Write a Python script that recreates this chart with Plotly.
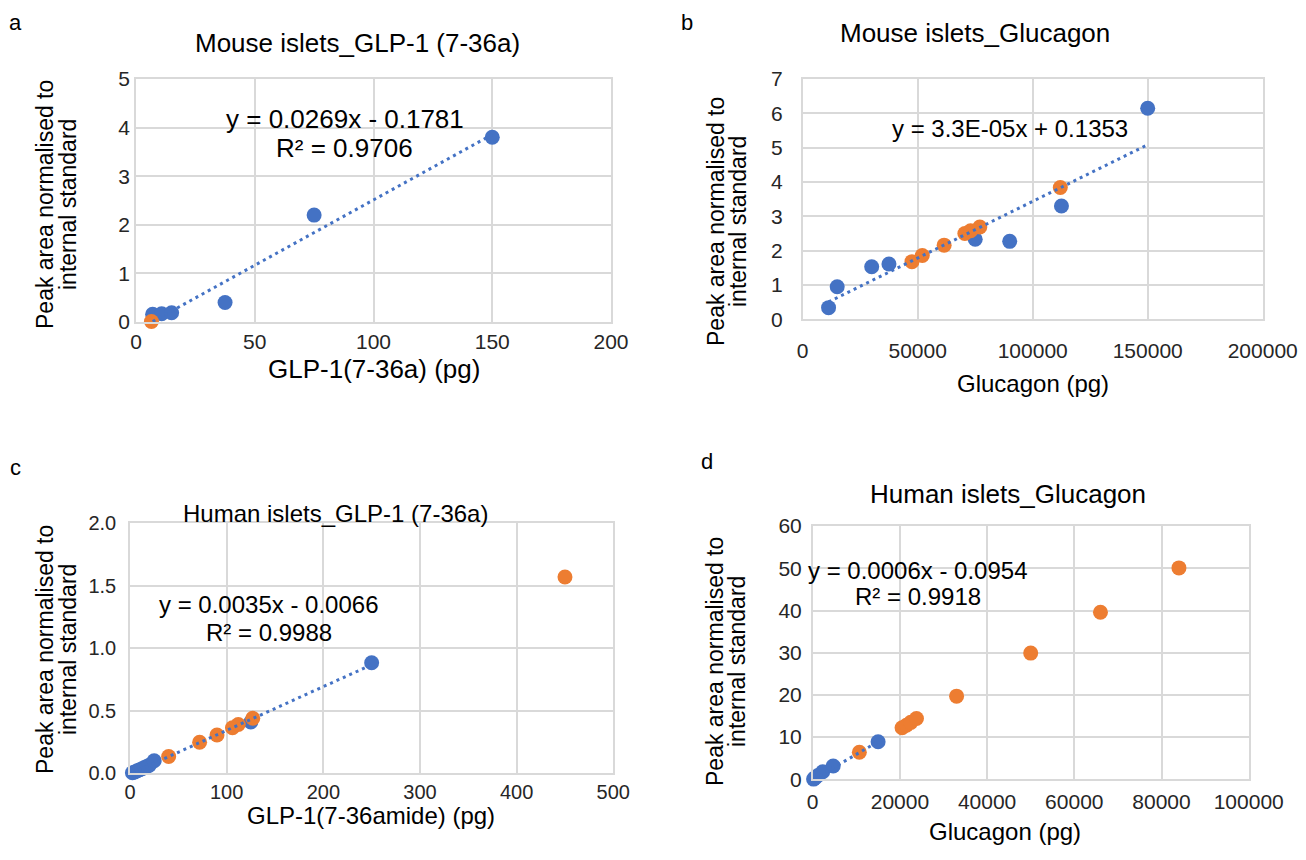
import plotly.graph_objects as go

# page offset: browser body margin is 8px, so work in reference pixels and shift
OFF = 8
FW, FH = 1306 - 2 * OFF, 860 - 2 * OFF
BLUE = "#4472C4"
ORANGE = "#ED7D31"
GRID = "#d9d9d9"
FONT = "Liberation Sans, Arial, sans-serif"

# ---- Panel a: Mouse islets GLP-1 (7-36a)
a_blue_x = [7.0, 10.8, 15.0, 37.5, 75.0, 150.0]
a_blue_y = [0.16, 0.17, 0.19, 0.40, 2.20, 3.80]
a_orange_x = [6.5]
a_orange_y = [0.01]
a_slope, a_intercept = 0.0269, -0.1781

# ---- Panel b: Mouse islets Glucagon
b_blue_x = [11250, 15000, 30000, 37500, 75000, 90000, 112500, 150000]
b_blue_y = [0.34, 0.95, 1.53, 1.61, 2.33, 2.27, 3.30, 6.15]
b_orange_x = [47500, 52000, 61500, 70500, 73000, 77000, 112000]
b_orange_y = [1.68, 1.86, 2.16, 2.50, 2.58, 2.69, 3.84]
b_slope, b_intercept = 3.3e-05, 0.1353

# ---- Panel c: Human islets GLP-1 (7-36a)
c_blue_x = [2.5, 5, 7.5, 10, 12.5, 15, 17.5, 20, 25, 125, 250]
c_blue_y = [0.004, 0.011, 0.020, 0.028, 0.037, 0.046, 0.055, 0.064, 0.10, 0.41, 0.885]
c_orange_x = [40, 72, 90, 106, 112, 127, 450]
c_orange_y = [0.135, 0.248, 0.306, 0.365, 0.39, 0.44, 1.57]
c_slope, c_intercept = 0.0035, -0.0066

# ---- Panel d: Human islets Glucagon
d_blue_x = [200, 600, 1200, 2300, 4700, 15000]
d_blue_y = [0.05, 0.40, 0.9, 1.8, 3.15, 8.9]
d_orange_x = [10700, 20500, 21500, 22500, 23800, 33000, 50000, 66000, 84000]
d_orange_y = [6.4, 12.2, 12.8, 13.5, 14.4, 19.7, 29.9, 39.6, 50.1]
d_slope, d_intercept = 0.0006, -0.0954

def fx(px):
    return (px - OFF) / FW

def fy(py):
    return 1 - (py - OFF) / FH

panels = [
    dict(bx=a_blue_x, by=a_blue_y, ox=a_orange_x, oy=a_orange_y, m=a_slope, c=a_intercept,
         xdom=(136, 611), ydom=(79, 322), xr=(0, 200), xd=50, yr=(0, 5), yd=1, yfmt="d",
         xso=0, yso=0, tf=21),
    dict(bx=b_blue_x, by=b_blue_y, ox=b_orange_x, oy=b_orange_y, m=b_slope, c=b_intercept,
         xdom=(802.7, 1262.7), ydom=(79, 319.3), xr=(0, 200000), xd=50000, yr=(0, 7), yd=1, yfmt="d",
         xso=12, yso=14, tf=21),
    dict(bx=c_blue_x, by=c_blue_y, ox=c_orange_x, oy=c_orange_y, m=c_slope, c=c_intercept,
         xdom=(130, 613.3), ydom=(523.3, 773.3), xr=(0, 500), xd=100, yr=(0, 2), yd=0.5, yfmt=".1f",
         xso=0, yso=8, tf=20),
    dict(bx=d_blue_x, by=d_blue_y, ox=d_orange_x, oy=d_orange_y, m=d_slope, c=d_intercept,
         xdom=(812.7, 1248.7), ydom=(526.1, 779.3), xr=(0, 100000), xd=20000, yr=(0, 60), yd=10, yfmt="d",
         xso=3, yso=5, tf=21),
]

fig = go.Figure()
layout = {}
for i, p in enumerate(panels):
    n = "" if i == 0 else str(i + 1)
    xa, ya = "x" + n, "y" + n
    fig.add_trace(go.Scatter(x=p["bx"], y=p["by"], mode="markers", xaxis=xa, yaxis=ya,
                             marker=dict(color=BLUE, size=15), cliponaxis=False, showlegend=False))
    fig.add_trace(go.Scatter(x=p["ox"], y=p["oy"], mode="markers", xaxis=xa, yaxis=ya,
                             marker=dict(color=ORANGE, size=15), cliponaxis=False, showlegend=False))
    x0, x1 = min(p["bx"]), max(p["bx"])
    fig.add_trace(go.Scatter(x=[x0, x1], y=[p["m"] * x0 + p["c"], p["m"] * x1 + p["c"]], mode="lines",
                             xaxis=xa, yaxis=ya, line=dict(color=BLUE, width=3, dash="3px,4px"),
                             cliponaxis=False, showlegend=False))
    axcommon = dict(showgrid=True, gridcolor=GRID, gridwidth=1.5, showline=True, linecolor=GRID,
                    linewidth=1.5, mirror=True, zeroline=False, ticks="", automargin=False,
                    tickfont=dict(family=FONT, size=p["tf"], color="#262626"))
    layout["xaxis" + n] = dict(axcommon, domain=[fx(p["xdom"][0]), fx(p["xdom"][1])],
                               range=list(p["xr"]), dtick=p["xd"], tick0=0, tickformat="d",
                               anchor=ya, ticklabelstandoff=p["xso"])
    layout["yaxis" + n] = dict(axcommon, domain=[fy(p["ydom"][1]), fy(p["ydom"][0])],
                               range=list(p["yr"]), dtick=p["yd"], tick0=0, tickformat=p["yfmt"],
                               anchor=xa, ticklabelstandoff=p["yso"])

fig.update_layout(**layout)

anns = []
def txt(x, y, s, size, angle=0, yanchor="middle"):
    anns.append(dict(x=fx(x), y=fy(y), xref="paper", yref="paper", text=s, showarrow=False,
                     textangle=angle, xanchor="center", yanchor=yanchor, borderpad=0,
                     font=dict(family=FONT, size=size, color="#000000")))

# panel letters
txt(15, 9, "a", 22, yanchor="top"); txt(687, 9, "b", 22, yanchor="top")
txt(15, 468, "c", 22); txt(707, 462, "d", 22)
# titles
txt(357, 43, "Mouse islets_GLP-1 (7-36a)", 26)
txt(975, 33, "Mouse islets_Glucagon", 26)
txt(335, 513, "Human islets_GLP-1 (7-36a)", 24)
txt(1008, 494, "Human islets_Glucagon", 26)
# x-axis titles
txt(374, 369, "GLP-1(7-36a) (pg)", 26)
txt(1033, 384, "Glucagon (pg)", 24)
txt(371, 815, "GLP-1(7-36amide) (pg)", 24)
txt(1005, 831, "Glucagon (pg)", 24)
# y-axis titles (two lines each)
y_line1 = "Peak area normalised to"
y_line2 = "internal standard"
for (x1, x2, yc) in [(45, 68, 205), (716, 738, 222), (45, 68, 650), (715, 737, 662)]:
    txt(x1, yc, y_line1, 23, -90)
    txt(x2, yc, y_line2, 23, -90)
# trendline equations
txt(345, 119, "y = 0.0269x - 0.1781", 26)
txt(345, 148, "R² = 0.9706", 26)
txt(1010, 128, "y = 3.3E-05x + 0.1353", 24)
txt(269, 604, "y = 0.0035x - 0.0066", 24)
txt(269, 632, "R² = 0.9988", 24)
txt(918, 570, "y = 0.0006x - 0.0954", 24)
txt(918, 596, "R² = 0.9918", 24)

fig.update_layout(width=FW, height=FH, margin=dict(l=0, r=0, t=0, b=0, autoexpand=False),
                  paper_bgcolor="white", plot_bgcolor="white", annotations=anns,
                  font=dict(family=FONT))
fig.write_html("out.html")
